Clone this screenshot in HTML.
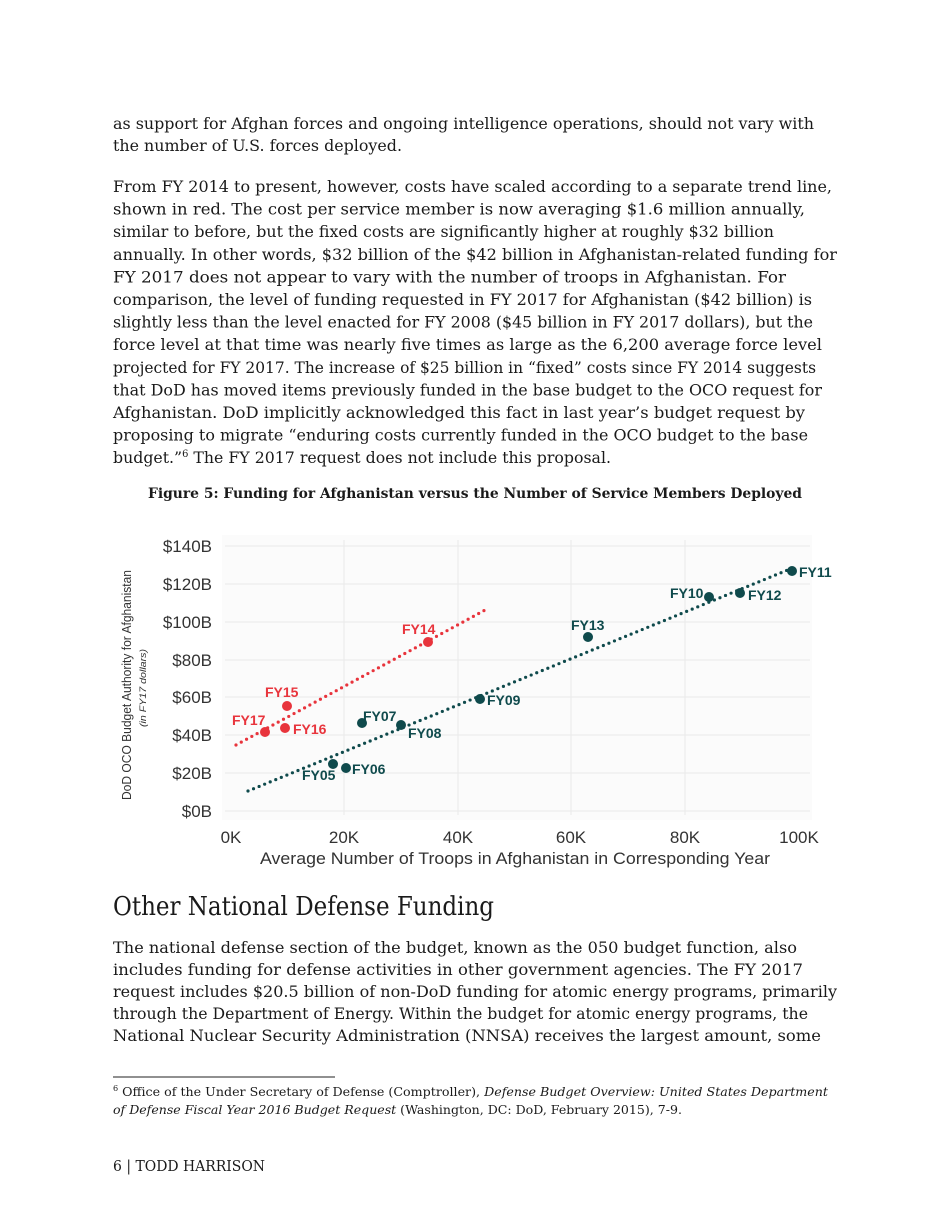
<!DOCTYPE html>
<html><head><meta charset="utf-8"><style>
html,body{margin:0;padding:0;background:#fff;}
svg{display:block}
.b{font-family:"DejaVu Serif","Liberation Serif",serif;font-size:16px;fill:#1a1a1a}
.c{font-family:"Liberation Sans",sans-serif;fill:#333}
.r{font-family:"Liberation Sans",sans-serif;font-weight:bold;font-size:14px;fill:#e8343c}
.g{font-family:"Liberation Sans",sans-serif;font-weight:bold;font-size:14px;fill:#0f4a4c}
</style></head><body>
<svg width="950" height="1230" viewBox="0 0 950 1230" xmlns="http://www.w3.org/2000/svg">
<g class="b">
<text x="113" y="129" textLength="701" lengthAdjust="spacingAndGlyphs">as support for Afghan forces and ongoing intelligence operations, should not vary with</text>
<text x="113" y="151" textLength="289" lengthAdjust="spacingAndGlyphs">the number of U.S. forces deployed.</text>
<text x="113" y="192" textLength="719" lengthAdjust="spacingAndGlyphs">From FY 2014 to present, however, costs have scaled according to a separate trend line,</text>
<text x="113" y="214.6" textLength="692" lengthAdjust="spacingAndGlyphs">shown in red. The cost per service member is now averaging $1.6 million annually,</text>
<text x="113" y="237.2" textLength="661" lengthAdjust="spacingAndGlyphs">similar to before, but the fixed costs are significantly higher at roughly $32 billion</text>
<text x="113" y="259.8" textLength="724" lengthAdjust="spacingAndGlyphs">annually. In other words, $32 billion of the $42 billion in Afghanistan-related funding for</text>
<text x="113" y="282.4" textLength="673" lengthAdjust="spacingAndGlyphs">FY 2017 does not appear to vary with the number of troops in Afghanistan. For</text>
<text x="113" y="305" textLength="699" lengthAdjust="spacingAndGlyphs">comparison, the level of funding requested in FY 2017 for Afghanistan ($42 billion) is</text>
<text x="113" y="327.6" textLength="700" lengthAdjust="spacingAndGlyphs">slightly less than the level enacted for FY 2008 ($45 billion in FY 2017 dollars), but the</text>
<text x="113" y="350.2" textLength="709" lengthAdjust="spacingAndGlyphs">force level at that time was nearly five times as large as the 6,200 average force level</text>
<text x="113" y="372.8" textLength="703" lengthAdjust="spacingAndGlyphs">projected for FY 2017. The increase of $25 billion in “fixed” costs since FY 2014 suggests</text>
<text x="113" y="395.4" textLength="709" lengthAdjust="spacingAndGlyphs">that DoD has moved items previously funded in the base budget to the OCO request for</text>
<text x="113" y="418" textLength="692" lengthAdjust="spacingAndGlyphs">Afghanistan.  DoD implicitly acknowledged this fact in last year’s budget request by</text>
<text x="113" y="440.6" textLength="695" lengthAdjust="spacingAndGlyphs">proposing to migrate “enduring costs currently funded in the OCO budget to the base</text>
<text x="113" y="463.2" textLength="498" lengthAdjust="spacingAndGlyphs">budget.”<tspan font-size="10" dy="-6">6</tspan><tspan dy="6">  The FY 2017 request does not include this proposal.</tspan></text>
</g>
<text x="148" y="498" textLength="654" lengthAdjust="spacingAndGlyphs" style="font-family:'DejaVu Serif',serif;font-weight:bold;font-size:13.5px;fill:#1a1a1a">Figure 5: Funding for Afghanistan versus the Number of Service Members Deployed</text>

<rect x="222" y="535" width="590" height="285" fill="#fbfbfb"/>
<g stroke="#ececec" stroke-width="1.2">
<line x1="225" x2="810" y1="546" y2="546"/><line x1="225" x2="810" y1="584" y2="584"/>
<line x1="225" x2="810" y1="622" y2="622"/><line x1="225" x2="810" y1="660" y2="660"/>
<line x1="225" x2="810" y1="697" y2="697"/><line x1="225" x2="810" y1="735" y2="735"/>
<line x1="225" x2="810" y1="773" y2="773"/><line x1="225" x2="810" y1="811" y2="811"/>
<line x1="344" x2="344" y1="540" y2="815"/><line x1="458" x2="458" y1="540" y2="815"/>
<line x1="571" x2="571" y1="540" y2="815"/><line x1="685" x2="685" y1="540" y2="815"/>
</g>
<g class="c" font-size="17" text-anchor="end" fill="#444">
<text x="212" y="552">$140B</text><text x="212" y="590">$120B</text><text x="212" y="628">$100B</text>
<text x="212" y="666">$80B</text><text x="212" y="703">$60B</text><text x="212" y="741">$40B</text>
<text x="212" y="779">$20B</text><text x="212" y="817">$0B</text>
</g>
<g class="c" font-size="17" text-anchor="middle" fill="#444">
<text x="231" y="843">0K</text><text x="344" y="843">20K</text><text x="458" y="843">40K</text>
<text x="571" y="843">60K</text><text x="685" y="843">80K</text><text x="799" y="843">100K</text>
</g>
<text class="c" x="260" y="864" font-size="17" fill="#666" textLength="510" lengthAdjust="spacingAndGlyphs">Average Number of Troops in Afghanistan in Corresponding Year</text>
<text class="c" transform="translate(131,800) rotate(-90)" font-size="13" fill="#666" textLength="230" lengthAdjust="spacingAndGlyphs">DoD OCO Budget Authority for Afghanistan</text>
<text class="c" transform="translate(146,727) rotate(-90)" font-size="9" font-style="italic" fill="#777" textLength="78" lengthAdjust="spacingAndGlyphs">(in FY17 dollars)</text>

<line x1="236" y1="745" x2="487" y2="609" stroke="#e8343c" stroke-width="3.2" stroke-linecap="round" stroke-dasharray="0 6"/>
<line x1="248" y1="791" x2="795" y2="567" stroke="#0f4a4c" stroke-width="3.2" stroke-linecap="round" stroke-dasharray="0 6"/>
<g fill="#e8343c">
<circle cx="428" cy="642" r="5"/><circle cx="287" cy="706" r="5"/><circle cx="285" cy="728" r="5"/><circle cx="265" cy="732" r="5"/>
</g>
<g fill="#0f4a4c">
<circle cx="792" cy="571" r="5"/><circle cx="740" cy="593" r="5"/><circle cx="709" cy="597" r="5"/><circle cx="588" cy="637" r="5"/>
<circle cx="480" cy="699" r="5"/><circle cx="401" cy="725" r="5"/><circle cx="362" cy="723" r="5"/><circle cx="346" cy="768" r="5"/><circle cx="333" cy="764" r="5"/>
</g>
<text class="r" x="402" y="634">FY14</text><text class="r" x="265" y="697">FY15</text>
<text class="r" x="293" y="734">FY16</text><text class="r" x="232" y="725">FY17</text>
<text class="g" x="799" y="577">FY11</text><text class="g" x="748" y="600">FY12</text>
<text class="g" x="670" y="598">FY10</text><text class="g" x="571" y="630">FY13</text>
<text class="g" x="487" y="705">FY09</text><text class="g" x="408" y="738">FY08</text>
<text class="g" x="363" y="721">FY07</text><text class="g" x="352" y="774">FY06</text>
<text class="g" x="302" y="780">FY05</text>

<text x="113" y="915" style="font-family:'DejaVu Serif',serif;font-size:26px;fill:#1a1a1a" textLength="381" lengthAdjust="spacingAndGlyphs">Other National Defense Funding</text>
<g class="b">
<text x="113" y="953" textLength="684" lengthAdjust="spacingAndGlyphs">The national defense section of the budget, known as the 050 budget function, also</text>
<text x="113" y="975" textLength="690" lengthAdjust="spacingAndGlyphs">includes funding for defense activities in other government agencies. The FY 2017</text>
<text x="113" y="997" textLength="724" lengthAdjust="spacingAndGlyphs">request includes $20.5 billion of non-DoD funding for atomic energy programs, primarily</text>
<text x="113" y="1019" textLength="695" lengthAdjust="spacingAndGlyphs">through the Department of Energy. Within the budget for atomic energy programs, the</text>
<text x="113" y="1041" textLength="708" lengthAdjust="spacingAndGlyphs">National Nuclear Security Administration (NNSA) receives the largest amount, some</text>
</g>
<line x1="113" y1="1077" x2="335" y2="1077" stroke="#222" stroke-width="1"/>
<g style="font-family:'DejaVu Serif',serif;font-size:12.5px;fill:#1a1a1a">
<text x="113" y="1096" textLength="715" lengthAdjust="spacingAndGlyphs"><tspan font-size="8" dy="-5">6</tspan><tspan dy="5"> Office of the Under Secretary of Defense (Comptroller), </tspan><tspan font-style="italic">Defense Budget Overview: United States Department</tspan></text>
<text x="113" y="1114" textLength="569" lengthAdjust="spacingAndGlyphs"><tspan font-style="italic">of Defense Fiscal Year 2016 Budget Request</tspan> (Washington, DC: DoD, February 2015), 7-9.</text>
</g>
<text x="113" y="1171" style="font-family:'DejaVu Serif',serif;font-size:15px;fill:#1a1a1a" textLength="152" lengthAdjust="spacingAndGlyphs">6 | TODD HARRISON</text>
</svg>
</body></html>
